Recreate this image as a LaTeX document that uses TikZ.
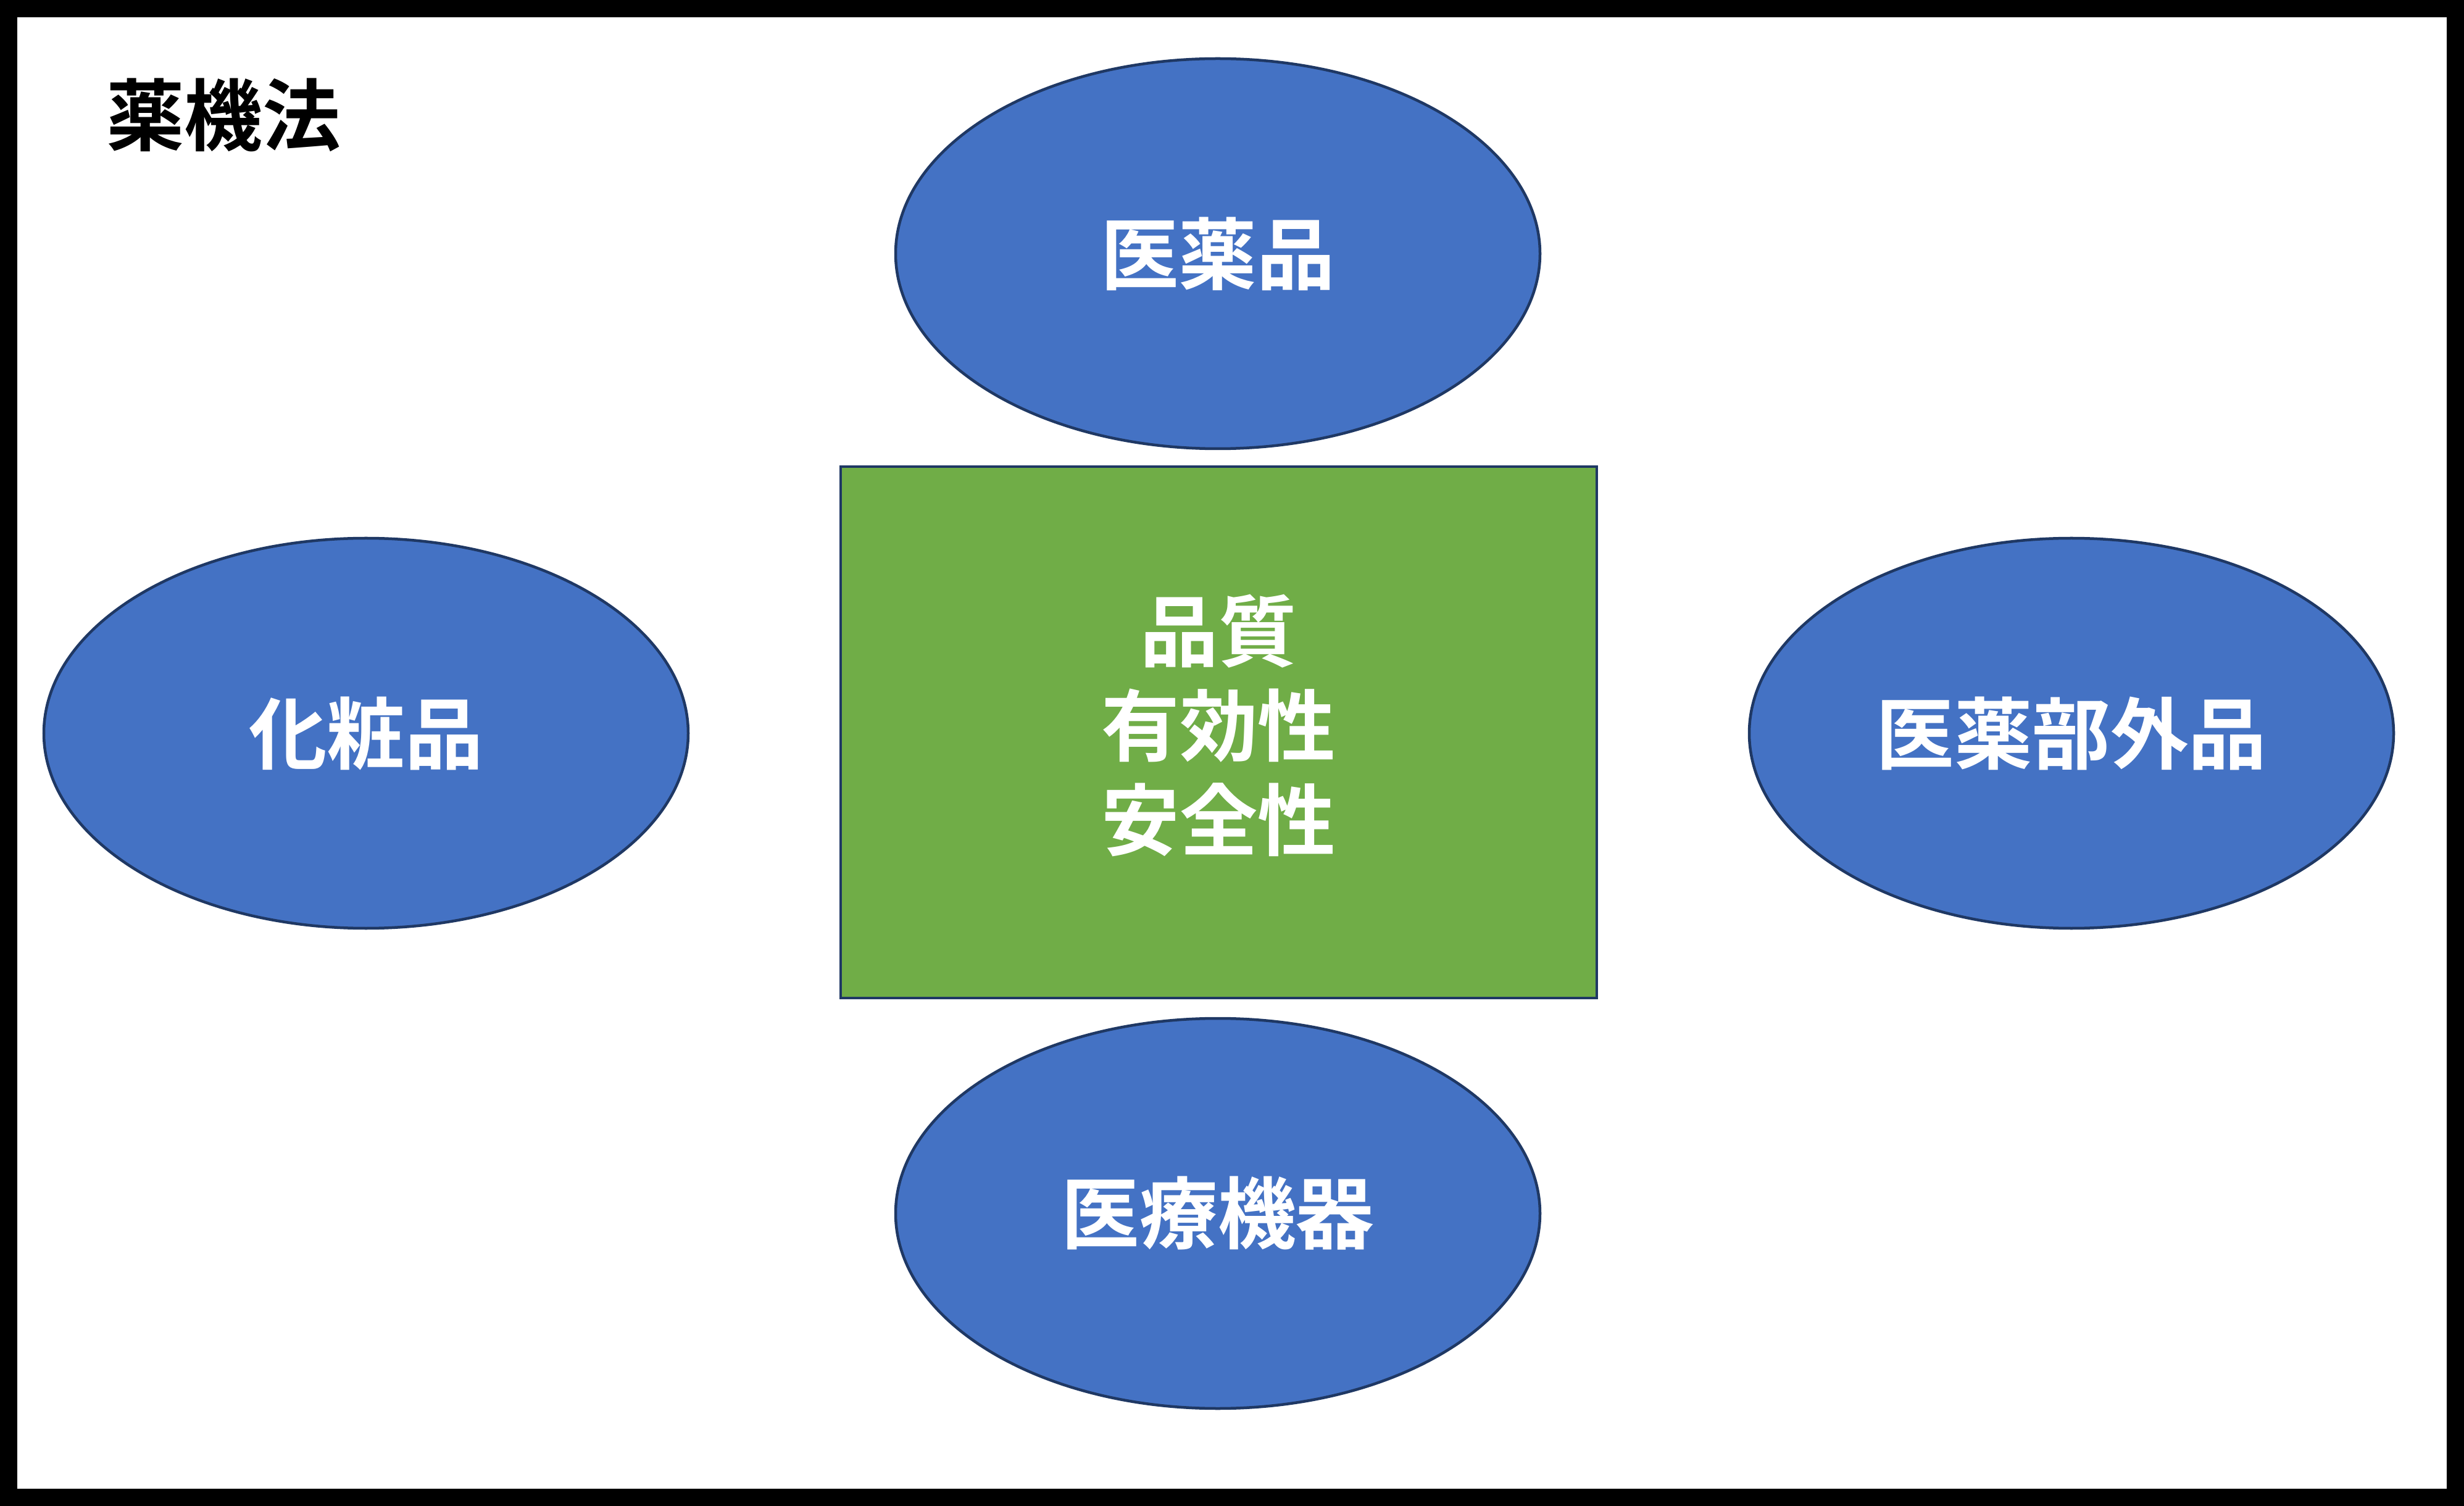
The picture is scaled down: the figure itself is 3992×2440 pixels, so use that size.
\documentclass[tikz,border=0pt]{standalone}
\usepackage{fontspec}
\setmainfont{Noto Sans CJK JP}[BoldFont={Noto Sans CJK JP Bold}]
\usetikzlibrary{shapes.geometric}
\definecolor{blueF}{HTML}{4472C4}
\definecolor{greenF}{HTML}{70AD47}
\definecolor{navy}{HTML}{1F3864}
\begin{document}
\begin{tikzpicture}[x=0.01cm,y=-0.01cm,
  bigfont/.style={font=\fontsize{36}{43.5}\selectfont\bfseries},
  bubble/.style={ellipse, draw=navy, fill=blueF, line width=0.45mm,
    minimum width=1044*0.01cm, minimum height=632*0.01cm, inner sep=0pt,
    text=white, bigfont},
  corebox/.style={rectangle, draw=navy, fill=greenF, line width=0.45mm,
    minimum width=1225*0.01cm, minimum height=861*0.01cm, inner sep=0pt},
  coretxt/.style={text=white, align=center, inner sep=0pt, bigfont},
  titletext/.style={bigfont, inner sep=0pt}]
\useasboundingbox (0,0) rectangle (3992,2440);
\fill[white] (0,0) rectangle (3992,2440);
\draw[line width=0.28cm] (14,14) rectangle (3978,2426);
\node[titletext] (title) at (362,186) {薬機法};
\node[corebox] (core) at (1974.5,1186.5) {};
\node[coretxt] (coretext) at (1974.5,1175) {品質\\有効性\\安全性};
\node[bubble] (top) at (1973,411) {医薬品};
\node[bubble] (left) at (593,1188) {化粧品};
\node[bubble] (right) at (3356,1188) {医薬部外品};
\node[bubble] (bottom) at (1973,1966) {医療機器};
\end{tikzpicture}
\end{document}
